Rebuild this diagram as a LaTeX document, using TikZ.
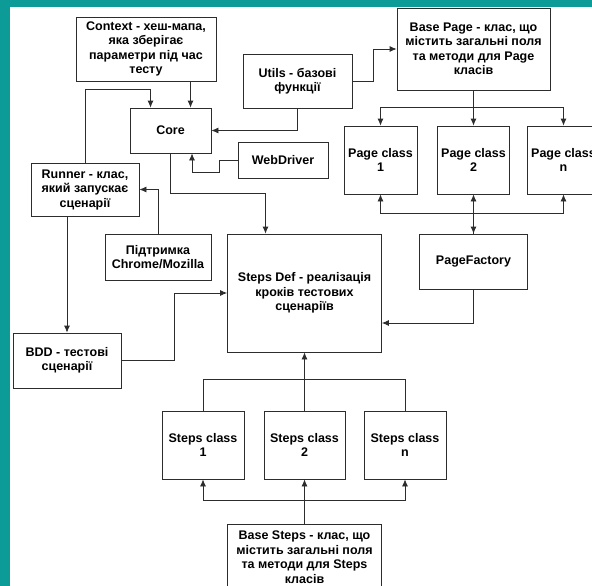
\documentclass[tikz,border=0pt]{standalone}
\usepackage{fontspec}
\setmainfont{Liberation Sans}
\usetikzlibrary{arrows.meta}
\definecolor{tealbg}{RGB}{12,155,150}
\definecolor{linec}{RGB}{45,45,45}

\begin{document}
\begin{tikzpicture}[x=1pt, y=-1pt, >={Latex[length=7pt,width=6pt]},
	box/.style={draw=linec, line width=0.8pt, fill=white, rectangle, align=center, inner sep=1pt,
		font=\fontsize{12.5}{14.5}\selectfont\bfseries},
	conn/.style={draw=linec, line width=0.8pt}]
	\useasboundingbox (0,0) rectangle (592,586);
	\fill[tealbg] (0,0) rectangle (592,586);
	\fill[white] (10,7) rectangle (600,600);

	\node[box, minimum width=140, minimum height=64] (ctx) at (146,49) {Context - хеш-мапа,\\яка зберігає\\параметри під час\\тесту};
	\node[box, minimum width=81, minimum height=45] (core) at (170.5,130.5) {Core};
	\node[box, minimum width=109, minimum height=54] (utils) at (297.5,81) {Utils - базові\\функції};
	\node[box, minimum width=90, minimum height=36] (web) at (283,160) {WebDriver};
	\node[box, minimum width=108, minimum height=53] (runner) at (85,189.5) {Runner - клас,\\який запускає\\сценарії};
	\node[box, minimum width=106, minimum height=46] (chrome) at (158,257) {Підтримка\\Chrome/Mozilla};
	\node[box, minimum width=108, minimum height=55] (bdd) at (67,360.5) {BDD - тестові\\сценарії};
	\node[box, minimum width=154, minimum height=118] (def) at (304.5,293) {Steps Def - реалізація\\кроків тестових\\сценаріїв};
	\node[box, minimum width=153, minimum height=82] (bp) at (473.5,49) {Base Page - клас, що\\містить загальні поля\\та методи для Page\\класів};
	\node[box, minimum width=73, minimum height=68] (pc1) at (380.5,160) {Page class\\1};
	\node[box, minimum width=72, minimum height=68] (pc2) at (473.5,160) {Page class\\2};
	\node[box, minimum width=73, minimum height=68] (pcn) at (563.5,160) {Page class\\n};
	\node[box, minimum width=108, minimum height=55] (pf) at (473.5,261.5) {PageFactory};
	\node[box, minimum width=82, minimum height=68] (sc1) at (203,445) {Steps class\\1};
	\node[box, minimum width=81, minimum height=68] (sc2) at (304.5,445) {Steps class\\2};
	\node[box, minimum width=82, minimum height=68] (scn) at (405,445) {Steps class\\n};
	\node[box, minimum width=154, minimum height=66] (bs) at (304.5,557) {Base Steps - клас, що\\містить загальні поля\\та методи для  Steps\\класів};

	% Core inputs
	\path[conn, ->] ([xshift=20pt]core.north |- ctx.south) -- ([xshift=20pt]core.north);
	\path[conn, ->] (runner.north) -- ++(0,-73) -| ([xshift=-20pt]core.north);
	\path[conn, ->] (utils.south) |- (core.east);
	\path[conn, ->] (web.west) -- ++(-18,0) -- ++(0,12) -| ([xshift=21.5pt]core.south);
	\path[conn, ->] (core.south) -- ++(0,40) -| ([xshift=-39pt]def.north);
	\path[conn, ->] (utils.east) -- ++(21,0) |- (bp.west);

	% runner side
	\path[conn, ->] (chrome.north) |- (runner.east);
	\path[conn, ->] (runner.south -| bdd.north) -- (bdd.north);
	\path[conn, ->] (bdd.east) -- ++(53,0) |- (def.west);

	% page classes
	\path[conn, ->] (bp.south) -- ++(0,17) -| (pc1.north);
	\path[conn, ->] (bp.south) -- ++(0,17) -| (pcn.north);
	\path[conn, ->] (bp.south) -- (pc2.north);
	\path[conn, <->] (pc2.south) -- (pf.north);
	\path[conn, ->] (pf.north) -- ++(0,-20) -| (pc1.south);
	\path[conn, ->] (pf.north) -- ++(0,-20) -| (pcn.south);
	\path[conn, ->] (pf.south) |- ([yshift=-30pt]def.east);

	% steps classes
	\path[conn] (sc1.north) -- ++(0,-31) -| (scn.north);
	\path[conn, ->] (sc2.north) -- (def.south);
	\path[conn, ->] (bs.north) -- ++(0,-23) -| (sc1.south);
	\path[conn, ->] (bs.north) -- ++(0,-23) -| (scn.south);
	\path[conn, ->] (bs.north) -- (sc2.south);
\end{tikzpicture}
\end{document}
